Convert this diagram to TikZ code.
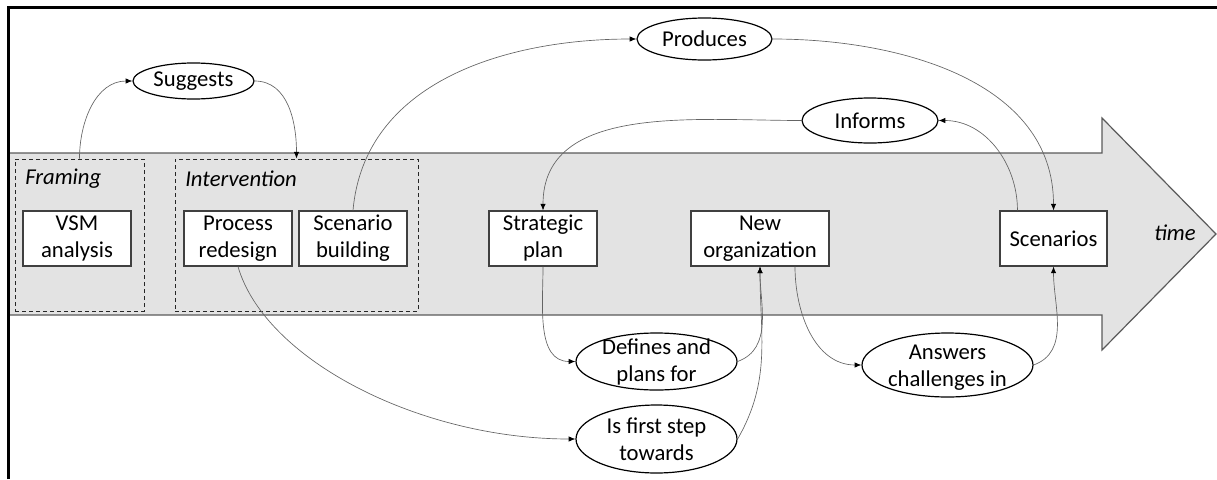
\documentclass[tikz,border=0pt]{standalone}
\usepackage{fontspec}
\setmainfont{Carlito}
\usetikzlibrary{arrows.meta,shapes.geometric}
\definecolor{arrowfill}{RGB}{227,227,227}
\definecolor{arrowline}{RGB}{90,90,90}
\definecolor{connc}{RGB}{100,100,100}
\begin{document}
\begin{tikzpicture}[x=0.75pt,y=-0.75pt,
  font=\fontsize{17}{20.25}\selectfont,
  box/.style={draw=black!75, line width=0.8pt, fill=white, minimum width=81pt,
    minimum height=41.25pt, inner sep=0pt, align=center},
  oval/.style={ellipse, draw=black, line width=0.9pt, fill=white, inner sep=0pt, align=center},
  phase/.style={draw=black!85, dash pattern=on 3pt off 2.25pt, line width=0.75pt,
    minimum height=114pt, inner sep=0pt},
  conn/.style={draw=connc, line width=0.5pt},
  arr/.style={conn, -{Latex[length=5pt,width=4pt,color=black]}},
  lbl/.style={inner sep=0pt, font=\fontsize{17}{20.25}\selectfont\itshape}
]
\useasboundingbox (0,0) rectangle (1217,479);
% big time arrow
\path[fill=arrowfill, draw=arrowline, line width=0.9pt]
  (8,153) -- (1102,153) -- (1102,118) -- (1216,234) -- (1102,350) -- (1102,315) -- (8,315) -- cycle;
\node[lbl] (time) at (1175,233) {time};
% phases
\node[phase, minimum width=96.75pt] (framing) at (79.5,235) {};
\node[phase, minimum width=182.25pt] (interv) at (296.5,235) {};
\node[lbl, anchor=west] (framingl) at (25,179) {Framing};
\node[lbl, anchor=west] (intervl) at (185,179) {Intervention};
% boxes
\node[box] (vsm) at (77,238.5) {VSM\\analysis};
\node[box] (proc) at (238,238.5) {Process\\redesign};
\node[box] (scb) at (353,238.5) {Scenario\\building};
\node[box] (strat) at (543,238.5) {Strategic\\plan};
\node[box, minimum width=103.5pt] (neworg) at (760,238.5) {New\\organization};
\node[box, minimum width=80.25pt] (scen) at (1053.5,238.5) {Scenarios};
% ovals
\node[oval, minimum width=90.75pt, minimum height=27pt] (sugg) at (193.5,81) {Suggests};
\node[oval, minimum width=101.25pt, minimum height=31.5pt] (prod) at (704.5,39) {Produces};
\node[oval, minimum width=102pt, minimum height=33.75pt] (inf) at (870,120.5) {Informs};
\node[oval, minimum width=120.75pt, minimum height=42.75pt] (def) at (656.5,361.5) {};
\node[align=center, inner sep=0pt] (deft) at (def) {Defines and\\plans for};
\node[oval, minimum width=120.75pt, minimum height=51pt] (first) at (656.5,439) {};
\node[align=center, inner sep=0pt] (firstt) at (first) {Is first step\\towards};
\node[oval, minimum width=128.25pt, minimum height=48pt] (ans) at (947.5,365) {};
\node[align=center, inner sep=0pt] (anst) at ([yshift=-2pt]ans) {Answers\\challenges in};
% connectors
\draw[arr] (framing.north) to[out=90,in=180] (sugg.west);
\draw[arr] (sugg.east) to[out=0,in=90] (interv.north);
\draw[arr] (scb.north) to[out=85,in=180] (prod.west);
\draw[arr] (prod.east) to[out=0,in=90] (scen.north);
\draw[arr] ([xshift=13.5pt]scen.north west) to[out=90,in=0] (inf.east);
\draw[arr] (inf.west) to[out=180,in=90] (strat.north);
\draw[arr] (strat.south) to[out=-90,in=180] (def.west);
\draw[arr] (def.east) to[out=20,in=-90] (neworg.south);
\draw[arr] (first.east) to[out=60,in=-90] (neworg.south);
\draw[arr] (proc.south) .. controls (265,360) and (420,439) .. (first.west);
\draw[arr] ([xshift=26.25pt]neworg.south) to[out=-90,in=180] (ans.west);
\draw[arr] (ans.east) to[out=20,in=-90] (scen.south);
% frame
\draw[line width=2.25pt] (8.5,479) -- (8.5,7) -- (1217,7);
\end{tikzpicture}
\end{document}
